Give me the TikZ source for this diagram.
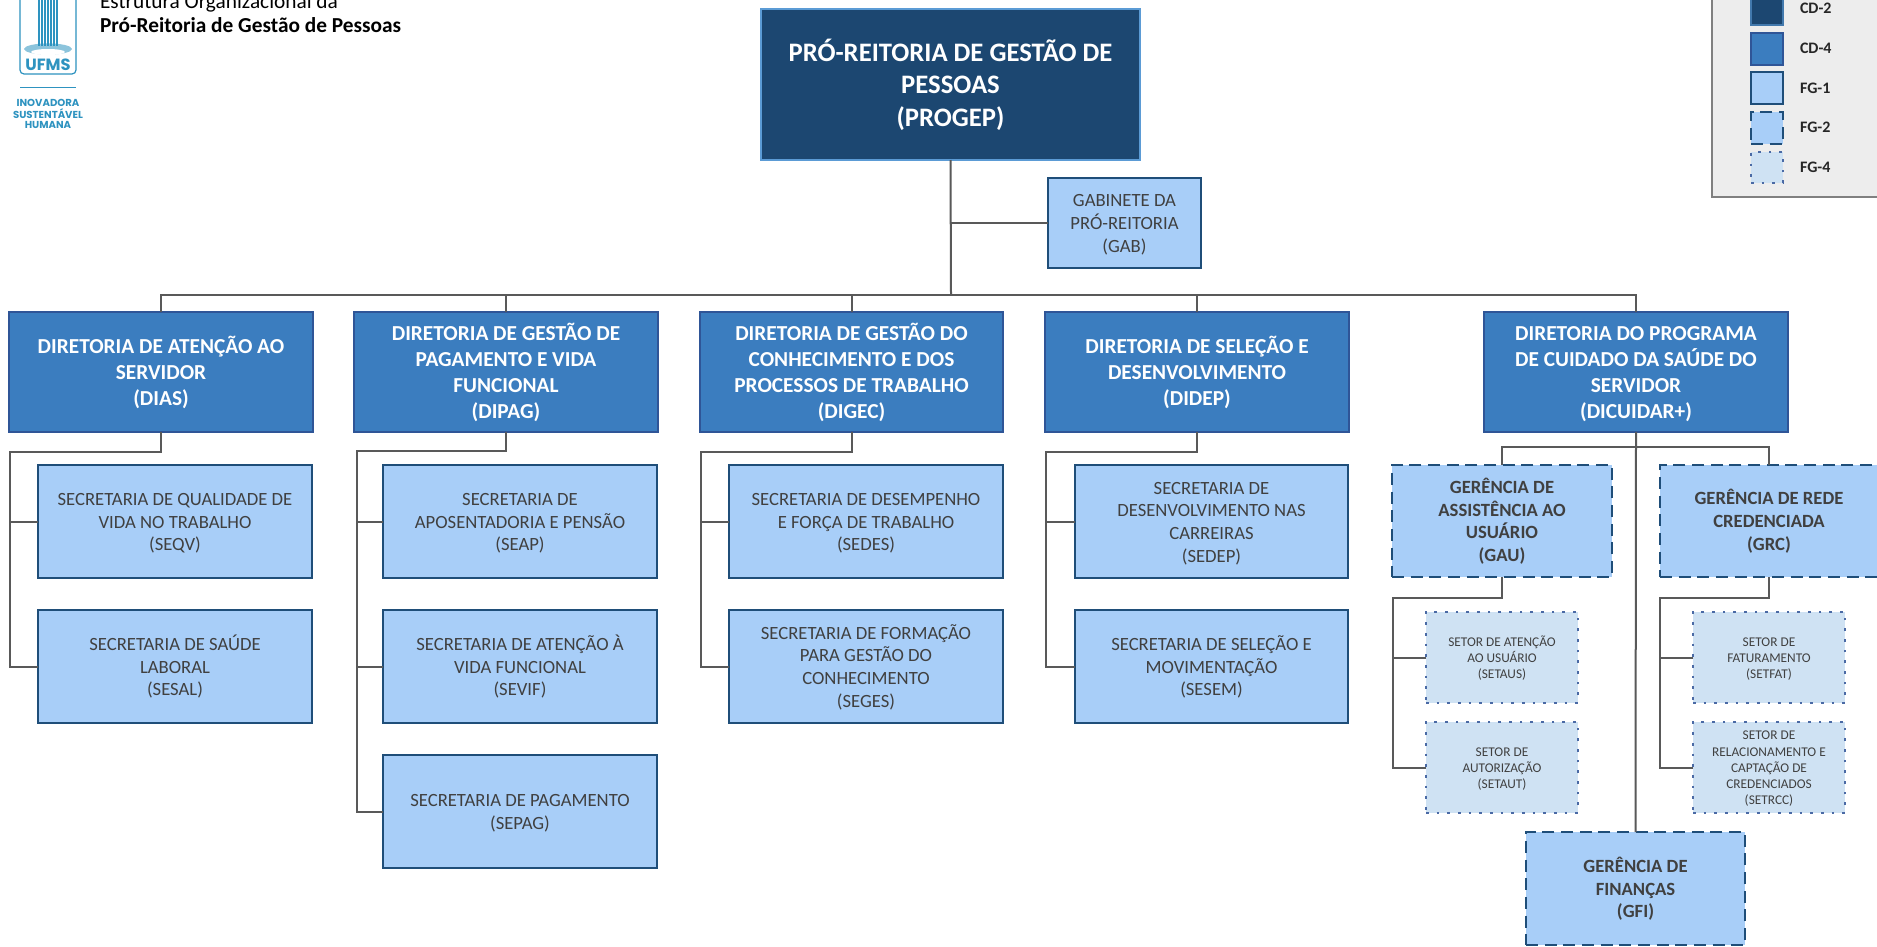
\documentclass[tikz,border=0pt]{standalone}
\usepackage{fontspec}
\setmainfont{Carlito}
\newfontfamily\popp{Poppins}
\definecolor{cdtwo}{HTML}{1C4771}
\definecolor{cdtwoedge}{HTML}{5B9BD5}
\definecolor{cdfour}{HTML}{3B7DBF}
\definecolor{cdfouredge}{HTML}{2F5597}
\definecolor{fgone}{HTML}{A8CEF8}
\definecolor{fgedge}{HTML}{1F4E79}
\definecolor{fgfour}{HTML}{CFE2F3}
\definecolor{fgfouredge}{HTML}{4A6AA5}
\definecolor{txt}{HTML}{404040}
\definecolor{conncol}{HTML}{595959}
\definecolor{logoblue}{HTML}{2E93C0}
\tikzset{
  base/.style={rectangle,inner sep=0pt,outer sep=0pt,align=center},
  cdtwobox/.style={base,fill=cdtwo,draw=cdtwoedge,line width=1.8pt,text=white,font=\fontsize{20}{24.2}\selectfont\bfseries},
  cdfourbox/.style={base,fill=cdfour,draw=cdfouredge,line width=1.9pt,text=white,font=\fontsize{16}{19.4}\selectfont\bfseries},
  fgonebox/.style={base,fill=fgone,draw=fgedge,line width=1.9pt,text=txt,font=\fontsize{14}{17}\selectfont},
  fgtwobox/.style={base,fill=fgone,draw=fgedge,line width=1.9pt,dash pattern=on 9pt off 5pt,text=txt,font=\fontsize{14}{17}\selectfont\bfseries},
  fgfourbox/.style={base,fill=fgfour,draw=fgfouredge,line width=1.9pt,dash pattern=on 1.9pt off 6.1pt,text=txt,font=\fontsize{10}{12.1}\selectfont},
  conn/.style={draw=conncol,line width=1.5pt,line join=miter},
  legendlabel/.style={inner sep=0pt,outer sep=0pt,anchor=west,text=black!85,font=\fontsize{12}{14}\selectfont\bfseries},
  headline/.style={inner sep=0pt,outer sep=0pt,anchor=base west,text=black,font=\fontsize{16}{19}\selectfont},
  logotext/.style={inner sep=0pt,outer sep=0pt,text=logoblue,font=\fontsize{7.6}{9}\popp\bfseries},
}
\newcommand{\bx}[7]{%
  \pgfmathsetmacro\bxcx{(#3+#5)/2}%
  \pgfmathsetmacro\bxcy{(#4+#6)/2}%
  \pgfmathsetmacro\bxw{(#5-#3)*0.75}%
  \pgfmathsetmacro\bxh{(#6-#4)*0.75}%
  \node[#1,minimum width=\bxw pt,minimum height=\bxh pt] (#2) at (\bxcx,\bxcy) {\rule{0pt}{0.85em}#7};}
\begin{document}
\begin{tikzpicture}[x=0.75pt,y=-0.75pt]
\useasboundingbox (0,0) rectangle (1877,946);
\clip (0,0) rectangle (1877,946);
\fill[white] (0,0) rectangle (1877,946);

% logo
\draw[logoblue,line width=0.9pt,rounded corners=3pt] (20,-12) rectangle (76,74);
\foreach \lx in {39,42,45,48,51,54,57}{\draw[logoblue,line width=1.5pt] (\lx,-5) -- (\lx,46);}
\fill[logoblue!55] (48,49) ellipse (24 and 5.6);
\fill[white] (48,52) ellipse (17 and 3);
\foreach \lx in {39,42,45,48,51,54,57}{\draw[logoblue,line width=1.2pt] (\lx,35) -- (\lx,46);}
\node[inner sep=0pt,text=logoblue,font=\fontsize{12.2}{14}\popp\bfseries] (ufms) at (48,65) {UFMS};
\draw[logoblue,line width=0.8pt] (20,87.5) -- (76,87.5);
\node[logotext] (inov) at (48,102.5) {INOVADORA};
\node[logotext] (sust) at (48,113.5) {SUSTENTÁVEL};
\node[logotext] (huma) at (48,124.5) {HUMANA};

% heading
\node[headline] (h1) at (100,8) {Estrutura Organizacional da};
\node[headline,font=\fontsize{16}{19}\selectfont\bfseries] (h2) at (100,32.5) {Pró-Reitoria de Gestão de Pessoas};

% legend
\draw[fill=black!7,draw=black!50,line width=1.5pt] (1712,-10) rectangle (1890,197);
\bx{base,fill=cdtwo,draw=cdtwoedge!60!cdtwo,line width=1pt}{l1}{1751}{-7}{1783}{25}{}
\bx{base,fill=cdfour,draw=cdfouredge,line width=1.9pt}{l2}{1751}{33}{1783}{65}{}
\bx{base,fill=fgone,draw=fgedge,line width=1.9pt}{l3}{1751}{72}{1783}{104}{}
\bx{base,fill=fgone,draw=fgedge,line width=1.9pt,dash pattern=on 9pt off 5pt}{l4}{1751}{112}{1783}{144}{}
\bx{base,fill=fgfour,draw=fgfouredge,line width=1.9pt,dash pattern=on 1.9pt off 6.1pt}{l5}{1751}{152}{1783}{183}{}
\node[legendlabel] (t1) at (1800,8) {CD-2};
\node[legendlabel] (t2) at (1800,48) {CD-4};
\node[legendlabel] (t3) at (1800,88) {FG-1};
\node[legendlabel] (t4) at (1800,127) {FG-2};
\node[legendlabel] (t5) at (1800,167) {FG-4};

% boxes
\bx{cdtwobox}{progep}{761}{9}{1140}{160}{PRÓ-REITORIA DE GESTÃO DE\\PESSOAS\\(PROGEP)}
\bx{fgonebox}{gab}{1048}{178}{1201}{268}{GABINETE DA\\PRÓ-REITORIA\\(GAB)}

\bx{cdfourbox}{dias}{9}{312}{313}{432}{DIRETORIA DE ATENÇÃO AO\\SERVIDOR\\(DIAS)}
\bx{cdfourbox}{dipag}{354}{312}{658}{432}{DIRETORIA DE GESTÃO DE\\PAGAMENTO E VIDA\\FUNCIONAL\\(DIPAG)}
\bx{cdfourbox}{digec}{700}{312}{1003}{432}{DIRETORIA DE GESTÃO DO\\CONHECIMENTO E DOS\\PROCESSOS DE TRABALHO\\(DIGEC)}
\bx{cdfourbox}{didep}{1045}{312}{1349}{432}{DIRETORIA DE SELEÇÃO E\\DESENVOLVIMENTO\\(DIDEP)}
\bx{cdfourbox}{dicuidar}{1484}{312}{1788}{432}{DIRETORIA DO PROGRAMA\\DE CUIDADO DA SAÚDE DO\\SERVIDOR\\(DICUIDAR+)}

\bx{fgonebox}{seqv}{38}{465}{312}{578}{SECRETARIA DE QUALIDADE DE\\VIDA NO TRABALHO\\(SEQV)}
\bx{fgonebox}{sesal}{38}{610}{312}{723}{SECRETARIA DE SAÚDE\\LABORAL\\(SESAL)}
\bx{fgonebox}{seap}{383}{465}{657}{578}{SECRETARIA DE\\APOSENTADORIA E PENSÃO\\(SEAP)}
\bx{fgonebox}{sevif}{383}{610}{657}{723}{SECRETARIA DE ATENÇÃO À\\VIDA FUNCIONAL\\(SEVIF)}
\bx{fgonebox}{sepag}{383}{755}{657}{868}{SECRETARIA DE PAGAMENTO\\(SEPAG)}
\bx{fgonebox}{sedes}{729}{465}{1003}{578}{SECRETARIA DE DESEMPENHO\\E FORÇA DE TRABALHO\\(SEDES)}
\bx{fgonebox}{seges}{729}{610}{1003}{723}{SECRETARIA DE FORMAÇÃO\\PARA GESTÃO DO\\CONHECIMENTO\\(SEGES)}
\bx{fgonebox}{sedep}{1075}{465}{1348}{578}{SECRETARIA DE\\DESENVOLVIMENTO NAS\\CARREIRAS\\(SEDEP)}
\bx{fgonebox}{sesem}{1075}{610}{1348}{723}{SECRETARIA DE SELEÇÃO E\\MOVIMENTAÇÃO\\(SESEM)}

\bx{fgtwobox}{gau}{1392}{465}{1612}{577}{GERÊNCIA DE\\ASSISTÊNCIA AO\\USUÁRIO\\(GAU)}
\bx{fgtwobox}{grc}{1660}{465}{1878}{577}{GERÊNCIA DE REDE\\CREDENCIADA\\(GRC)}
\bx{fgtwobox}{gfi}{1526}{832}{1745}{945}{GERÊNCIA DE\\FINANÇAS\\(GFI)}
\bx{fgfourbox}{setaus}{1426}{612}{1578}{703}{SETOR DE ATENÇÃO\\AO USUÁRIO\\(SETAUS)}
\bx{fgfourbox}{setaut}{1426}{722}{1578}{813}{SETOR DE\\AUTORIZAÇÃO\\(SETAUT)}
\bx{fgfourbox}{setfat}{1693}{612}{1845}{703}{SETOR DE\\FATURAMENTO\\(SETFAT)}
\bx{fgfourbox}{setrcc}{1693}{722}{1845}{813}{SETOR DE\\RELACIONAMENTO E\\CAPTAÇÃO DE\\CREDENCIADOS\\(SETRCC)}

% connector joints
\coordinate (bus) at (951,295);
\coordinate (ediasl) at (9.5,452);
\coordinate (edipagl) at (357,451);
\coordinate (edigecl) at (700.5,452);
\coordinate (edidepl) at (1046,452);
\coordinate (ecuid) at (1636,447);
\coordinate (egaul) at (1393,598);
\coordinate (egrcl) at (1660,598);

% connectors
\draw[conn] (progep.south) -- (bus);
\draw[conn] (gab.west) -- (progep.south |- gab.west);
\draw[conn] (dias.north) |- (bus);
\draw[conn] (dipag.north) |- (bus);
\draw[conn] (digec.north) |- (bus);
\draw[conn] (didep.north) |- (bus);
\draw[conn] (dicuidar.north) |- (bus);

\draw[conn] (dias.south) |- (ediasl) |- (sesal.west);
\draw[conn] (seqv.west) -- (ediasl |- seqv.west);
\draw[conn] (dipag.south) |- (edipagl) |- (sepag.west);
\draw[conn] (seap.west) -- (edipagl |- seap.west);
\draw[conn] (sevif.west) -- (edipagl |- sevif.west);
\draw[conn] (digec.south) |- (edigecl) |- (seges.west);
\draw[conn] (sedes.west) -- (edigecl |- sedes.west);
\draw[conn] (didep.south) |- (edidepl) |- (sesem.west);
\draw[conn] (sedep.west) -- (edidepl |- sedep.west);

\draw[conn] (dicuidar.south) -- (gfi.north);
\draw[conn] (gau.north) |- (ecuid);
\draw[conn] (grc.north) |- (ecuid);
\draw[conn] (gau.south) |- (egaul) |- (setaut.west);
\draw[conn] (setaus.west) -- (egaul |- setaus.west);
\draw[conn] (grc.south) |- (egrcl) |- (setrcc.west);
\draw[conn] (setfat.west) -- (egrcl |- setfat.west);
\end{tikzpicture}
\end{document}
